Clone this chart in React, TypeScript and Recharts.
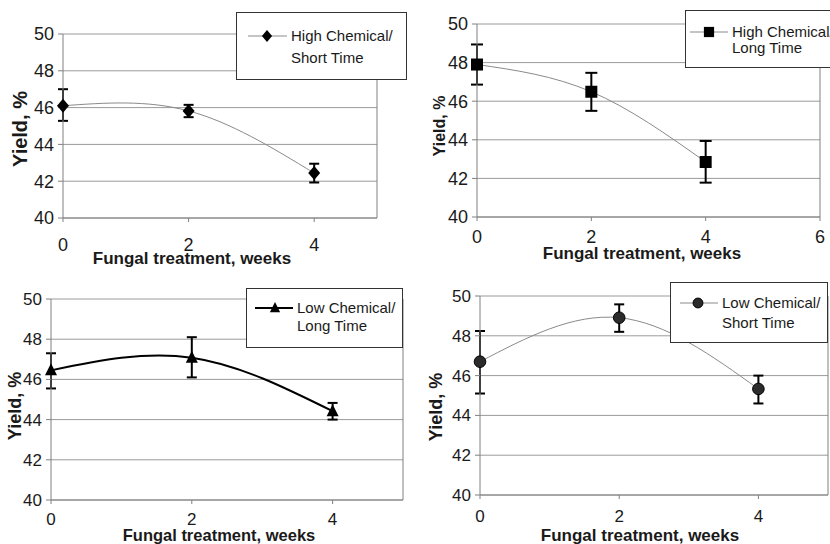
import React from 'react';
import {
  LineChart,
  Line,
  XAxis,
  YAxis,
  CartesianGrid,
  ErrorBar,
  Legend,
  ReferenceLine,
} from 'recharts';

// Fungal treatment time, weeks
const weeks = [0, 2, 4];

// Yield (%) with error bar ends
const highShortYield = [46.1, 45.82, 42.44];
const highShortLow = [45.28, 45.48, 41.93];
const highShortHigh = [47.0, 46.15, 42.95];

const highLongYield = [47.9, 46.49, 42.85];
const highLongLow = [46.86, 45.5, 41.78];
const highLongHigh = [48.94, 47.47, 43.94];

const lowLongYield = [46.45, 47.08, 44.42];
const lowLongLow = [45.55, 46.1, 44.0];
const lowLongHigh = [47.3, 48.1, 44.83];

const lowShortYield = [46.7, 48.91, 45.33];
const lowShortLow = [45.1, 48.2, 44.6];
const lowShortHigh = [48.24, 49.58, 46.0];

const yTicks = [40, 42, 44, 46, 48, 50];
const xTicksShort = [0, 2, 4];
const xTicksLong = [0, 2, 4, 6];

const toRows = (y: number[], lo: number[], hi: number[]) =>
  weeks.map((w, i) => ({ week: w, yield: y[i], err: [y[i] - lo[i], hi[i] - y[i]] }));

const FONT = "'Liberation Sans', Arial, sans-serif";
const INK = '#1a1a1a';
const GRID = '#9a9a9a';
const AXIS = '#808080';

type Shape = 'diamond' | 'square' | 'triangle' | 'circle';

const Marker = ({ shape, cx, cy, s = 1 }: { shape: Shape; cx: number; cy: number; s?: number }) => {
  if (shape === 'diamond')
    return <polygon points={`${cx},${cy - 7 * s} ${cx + 6 * s},${cy} ${cx},${cy + 7 * s} ${cx - 6 * s},${cy}`} fill="#000" />;
  if (shape === 'square')
    return <rect x={cx - 6 * s} y={cy - 6 * s} width={12 * s} height={12 * s} fill="#000" />;
  if (shape === 'triangle')
    return <polygon points={`${cx},${cy - 7 * s} ${cx + 6 * s},${cy + 5 * s} ${cx - 6 * s},${cy + 5 * s}`} fill="#000" />;
  return <circle cx={cx} cy={cy} r={5.8 * s} fill="#2b2b2b" stroke="#000" strokeWidth={1} />;
};

const panels = [
  {
    key: 'hs',
    left: 0, top: 0,
    rows: toRows(highShortYield, highShortLow, highShortHigh),
    shape: 'diamond' as Shape,
    lines: ['High Chemical/', 'Short Time'],
    stroke: '#8a8a8a', strokeWidth: 1,
    xMax: 5, xTicks: xTicksShort,
    margin: { top: 34, right: 38, bottom: 24, left: 18 },
    tickGap: 20, tickFont: 18, capW: 5,
    xTitle: { x: 192, y: 258, size: 17 },
    yTitle: { x: 20, y: 129, size: 20 },
    legend: { left: 236, top: 12, width: 171, height: 68, l1: 24, l2: 46, ix1: 12, ix2: 51, mx: 31, tx: 55 },
  },
  {
    key: 'hl',
    left: 415, top: 0,
    rows: toRows(highLongYield, highLongLow, highLongHigh),
    shape: 'square' as Shape,
    lines: ['High Chemical/', 'Long Time'],
    stroke: '#8a8a8a', strokeWidth: 1,
    xMax: 6, xTicks: xTicksLong,
    margin: { top: 24, right: 10, bottom: 25, left: 17 },
    tickGap: 13, tickFont: 18, capW: 6,
    xTitle: { x: 227, y: 253, size: 17 },
    yTitle: { x: 24, y: 126, size: 16 },
    legend: { left: 270, top: 10, width: 170, height: 58, l1: 22, l2: 38, ix1: 5, ix2: 43, mx: 24, tx: 47 },
  },
  {
    key: 'll',
    left: 0, top: 272,
    rows: toRows(lowLongYield, lowLongLow, lowLongHigh),
    shape: 'triangle' as Shape,
    lines: ['Low Chemical/', 'Long Time'],
    stroke: '#000', strokeWidth: 2,
    xMax: 5, xTicks: xTicksShort,
    margin: { top: 27, right: 12, bottom: 14, left: 6 },
    tickGap: 13, tickFont: 17, capW: 5,
    xTitle: { x: 219, y: 263, size: 16.5 },
    yTitle: { x: 15, y: 134, size: 18 },
    legend: { left: 246, top: 16, width: 157, height: 60, l1: 20, l2: 38, ix1: 9, ix2: 47, mx: 29, tx: 51 },
  },
  {
    key: 'ls',
    left: 415, top: 272,
    rows: toRows(lowShortYield, lowShortLow, lowShortHigh),
    shape: 'circle' as Shape,
    lines: ['Low Chemical/', 'Short Time'],
    stroke: '#8a8a8a', strokeWidth: 1,
    xMax: 5, xTicks: xTicksShort,
    margin: { top: 24, right: 2, bottom: 19, left: 20 },
    tickGap: 15, tickFont: 17, capW: 5,
    xTitle: { x: 225, y: 263, size: 17 },
    yTitle: { x: 21, y: 135, size: 18 },
    legend: { left: 255, top: 10, width: 158, height: 61, l1: 21, l2: 41, ix1: 10, ix2: 48, mx: 28, tx: 52 },
  },
];

type Panel = (typeof panels)[number];

const LegendBox = ({ p }: { p: Panel }) => {
  const L = p.legend;
  return (
    <div
      style={{
        position: 'relative',
        width: L.width,
        height: L.height,
        boxSizing: 'border-box',
        border: '1px solid #333',
        background: '#fff',
        fontFamily: FONT,
        fontSize: 15,
        color: INK,
      }}
    >
      <svg width={L.width} height={L.height} style={{ position: 'absolute', left: -1, top: -1 }}>
        <line x1={L.ix1} x2={L.ix2} y1={L.l1} y2={L.l1} stroke={p.stroke} strokeWidth={p.strokeWidth} />
        <Marker shape={p.shape} cx={L.mx} cy={L.l1} s={0.85} />
      </svg>
      {p.lines.map((t, i) => (
        <div
          key={t}
          style={{
            position: 'absolute',
            left: L.tx - 1,
            top: (i === 0 ? L.l1 : L.l2) - 10,
            lineHeight: '18px',
            whiteSpace: 'nowrap',
          }}
        >
          {t}
        </div>
      ))}
    </div>
  );
};

const PanelChart = ({ p }: { p: Panel }) => (
  <div style={{ position: 'absolute', left: p.left, top: p.top }}>
    <LineChart width={415} height={272} data={p.rows} margin={p.margin}>
      <CartesianGrid vertical={false} stroke={GRID} />
      <XAxis
        type="number"
        dataKey="week"
        domain={[0, p.xMax]}
        ticks={p.xTicks}
        height={30}
        axisLine={{ stroke: AXIS }}
        tickLine={{ stroke: AXIS }}
        tickSize={4}
        tickMargin={p.tickGap - 4}
        tick={{ fill: INK, fontSize: p.tickFont, fontFamily: FONT }}
        label={() => (
          <text
            x={p.xTitle.x}
            y={p.xTitle.y}
            textAnchor="middle"
            dominantBaseline="central"
            fontFamily={FONT}
            fontWeight="bold"
            fontSize={p.xTitle.size}
            fill={INK}
          >
            Fungal treatment, weeks
          </text>
        )}
      />
      <YAxis
        type="number"
        domain={[40, 50]}
        ticks={yTicks}
        width={45}
        axisLine={{ stroke: AXIS }}
        tickLine={{ stroke: AXIS }}
        tickSize={5}
        tickMargin={4}
        tick={{ fill: INK, fontSize: p.tickFont, fontFamily: FONT }}
        label={() => (
          <text
            x={p.yTitle.x}
            y={p.yTitle.y}
            textAnchor="middle"
            dominantBaseline="central"
            transform={`rotate(-90 ${p.yTitle.x} ${p.yTitle.y})`}
            fontFamily={FONT}
            fontWeight="bold"
            fontSize={p.yTitle.size}
            fill={INK}
          >
            Yield, %
          </text>
        )}
      />
      <ReferenceLine x={p.xMax} stroke={AXIS} />
      <Legend
        layout="vertical"
        align="center"
        verticalAlign="middle"
        wrapperStyle={{ left: p.legend.left, top: p.legend.top, width: p.legend.width, height: p.legend.height }}
        content={() => <LegendBox p={p} />}
      />
      <Line
        type="natural"
        dataKey="yield"
        stroke={p.stroke}
        strokeWidth={p.strokeWidth}
        isAnimationActive={false}
        activeDot={false}
        dot={(d: any) => <Marker key={`dot-${d.index}`} shape={p.shape} cx={d.cx} cy={d.cy} />}
      >
        <ErrorBar dataKey="err" direction="y" width={p.capW} stroke="#000" strokeWidth={2} isAnimationActive={false} />
      </Line>
    </LineChart>
  </div>
);

export default function App() {
  return (
    <div
      style={{
        position: 'absolute',
        left: 0,
        top: 0,
        width: 830,
        height: 544,
        overflow: 'hidden',
        background: '#fff',
      }}
    >
      {panels.map((p) => (
        <PanelChart key={p.key} p={p} />
      ))}
    </div>
  );
}
